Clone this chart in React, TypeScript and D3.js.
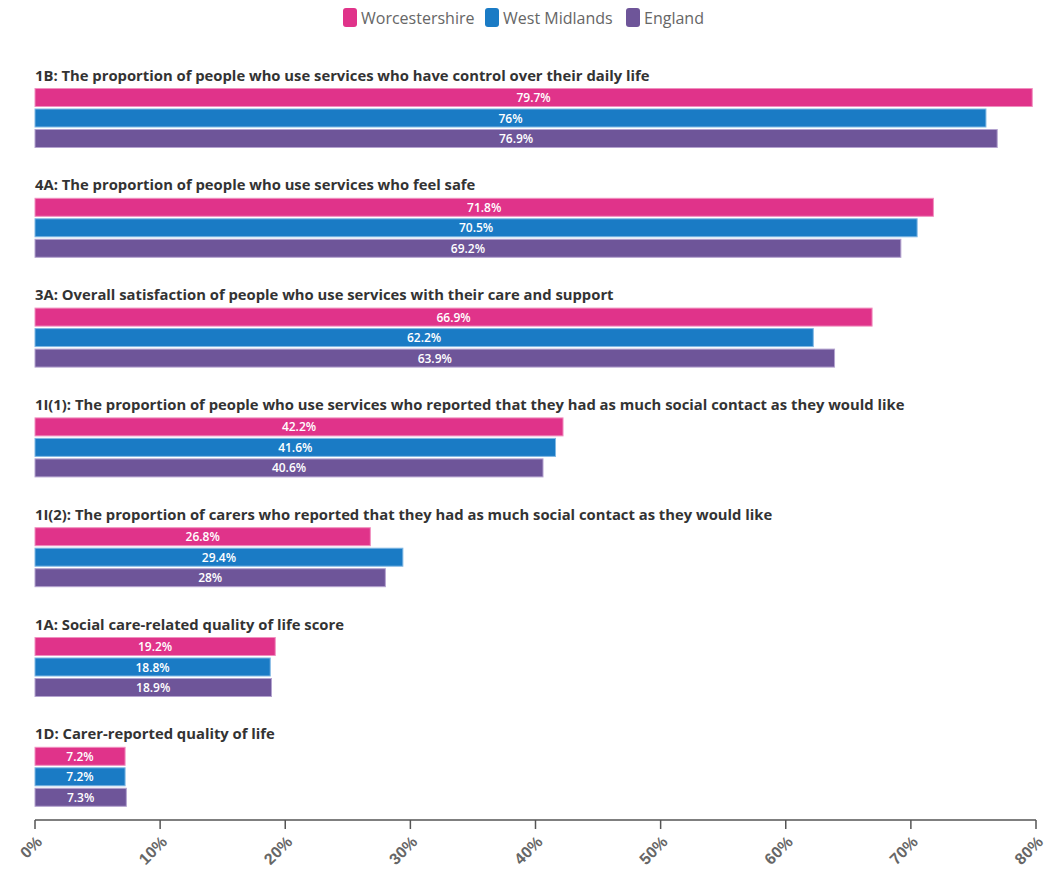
import React from "react";
import * as d3 from "d3";

const categories = [
  "1B: The proportion of people who use services who have control over their daily life",
  "4A: The proportion of people who use services who feel safe",
  "3A: Overall satisfaction of people who use services with their care and support",
  "1I(1): The proportion of people who use services who reported that they had as much social contact as they would like",
  "1I(2): The proportion of carers who reported that they had as much social contact as they would like",
  "1A: Social care-related quality of life score",
  "1D: Carer-reported quality of life",
];
const seriesNames = ["Worcestershire", "West Midlands", "England"];
const worcestershire = [79.7, 71.8, 66.9, 42.2, 26.8, 19.2, 7.2];
const westMidlands = [76, 70.5, 62.2, 41.6, 29.4, 18.8, 7.2];
const england = [76.9, 69.2, 63.9, 40.6, 28, 18.9, 7.3];
const ticks = [0, 10, 20, 30, 40, 50, 60, 70, 80];

const series = [worcestershire, westMidlands, england];
const colors = ["#e0338a", "#1a7bc5", "#6e5599"];
const strokes = ["#f08fbf", "#80b8e4", "#b4a3cf"];

const W = 1063;
const H = 869;

export default function App() {
  const x = d3.scaleLinear().domain([0, 80]).range([35, 1036]);
  const groupY = d3
    .scaleBand<number>()
    .domain(categories.map((_, i) => i))
    .range([66, 66 + 109.8 * categories.length])
    .paddingInner(0)
    .paddingOuter(0);
  const fmt = (v: number) => `${v}%`;
  const legendX = [343, 485, 626];
  const font = "'Open Sans', 'Noto Sans', sans-serif";

  return (
    <svg
      width={W}
      height={H}
      style={{ position: "absolute", left: 0, top: 0, background: "#fff" }}
      fontFamily={font}
    >
      {seriesNames.map((s, i) => (
        <g key={s} transform={`translate(${legendX[i]},8)`}>
          <rect x={0} y={0} width={14} height={19} rx={3} fill={colors[i]} />
          <text x={18} y={15.5} fontSize={16} fill="#666">
            {s}
          </text>
        </g>
      ))}
      {categories.map((c, gi) => {
        const gy = groupY(gi)!;
        return (
          <g key={c}>
            <text x={35} y={gy + 14.5} fontSize={14.8} fontWeight="bold" fill="#333">
              {c}
            </text>
            {series.map((vals, si) => {
              const v = vals[gi];
              const by = gy + 22.5 + si * 20.5;
              return (
                <g key={si}>
                  <rect
                    x={x(0)}
                    y={by}
                    width={x(v) - x(0)}
                    height={18}
                    fill={colors[si]}
                    stroke={strokes[si]}
                    strokeWidth={1}
                  />
                  <text
                    x={(x(0) + x(v)) / 2}
                    y={by + 13.5}
                    fontSize={12}
                    fontWeight={600}
                    fill="#fff"
                    textAnchor="middle"
                  >
                    {fmt(v)}
                  </text>
                </g>
              );
            })}
          </g>
        );
      })}
      <g>
        <line x1={x(0)} x2={x(80)} y1={820} y2={820} stroke="#555" strokeWidth={1.5} />
        {ticks.map((t) => (
          <g key={t}>
            <line x1={x(t)} x2={x(t)} y1={820} y2={829} stroke="#555" strokeWidth={1.5} />
            <text
              transform={`translate(${x(t) + 8},${843}) rotate(-45)`}
              textAnchor="end"
              fontSize={16}
              fontWeight="bold"
              fill="#666"
              fontFamily="'Liberation Sans', Arial, sans-serif"
            >
              {fmt(t)}
            </text>
          </g>
        ))}
      </g>
    </svg>
  );
}
